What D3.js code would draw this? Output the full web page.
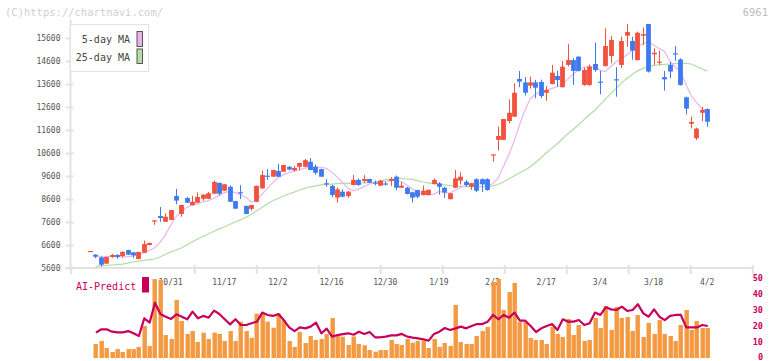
<!DOCTYPE html>
<html>
<head>
<meta charset="utf-8">
<script src="https://cdn.jsdelivr.net/npm/d3@7"></script>
<style>
  body { margin: 0; background: #fff; }
  svg { display: block; }
  text { font-family: "DejaVu Sans Mono", "Liberation Mono", monospace; }
</style>
</head>
<body>
<svg id="chart" width="772" height="361"></svg>
<script>
// trading days (categories)
const dates = [
  "10/9","10/10","10/14","10/15","10/16","10/17","10/20","10/21","10/22","10/23","10/24","10/27","10/28","10/29","10/30","10/31",
  "11/4","11/5","11/6","11/7","11/10","11/11","11/12","11/13","11/14","11/17","11/18","11/19","11/20","11/21","11/25","11/26","11/27","11/28",
  "12/1","12/2","12/3","12/4","12/5","12/8","12/9","12/10","12/11","12/12","12/15","12/16","12/17","12/18","12/19","12/22","12/23","12/24","12/25","12/26","12/29","12/30",
  "1/5","1/6","1/7","1/8","1/9","1/13","1/14","1/15","1/16","1/19","1/20","1/21","1/22","1/23","1/26","1/27","1/28","1/29","1/30",
  "2/2","2/3","2/4","2/5","2/6","2/9","2/10","2/12","2/13","2/16","2/17","2/18","2/19","2/20","2/24","2/25","2/26","2/27",
  "3/2","3/3","3/4","3/5","3/6","3/9","3/10","3/11","3/12","3/13","3/16","3/17","3/18","3/19","3/23","3/24","3/25","3/26","3/27","3/30","3/31",
  "4/1","4/2"
];
const dateLabels = ["10/31","11/17","12/2","12/16","12/30","1/19","2/2","2/17","3/4","3/18","4/2"];
const priceTicks = [5600,6600,7600,8600,9600,10600,11600,12600,13600,14600,15600];
const aiTicks = [0,10,20,30,40,50];

const open = [
  6330,6180,6065,5790,6080,6165,6120,6380,6280,5990,6265,6600,7650,7860,7610,7690,
  8730,7950,8640,8330,8440,8610,8610,8830,9300,8960,9130,8510,8895,8300,8170,8480,9060,9615,
  9570,9820,9790,10000,9850,10000,10000,10220,10000,9900,9285,9170,8660,8920,8730,9210,9430,9380,9470,9315,9180,9275,
  9380,9570,9090,9090,8890,8990,8770,8770,9250,9280,9090,8590,9090,9400,9350,9130,9460,9460,9460,
  10530,11170,11170,11990,12180,13820,13670,13530,13670,13690,13220,13600,13950,13460,14430,14640,14790,13560,
  13560,14470,13705,14380,14820,13805,14430,15700,15470,14640,15700,16210,14890,14565,13900,14430,14935,14670,13020,11870,11240,
  12350,12510
];
const high = [
  6340,6200,6100,6080,6210,6200,6330,6390,6300,6310,6790,6700,7680,8250,7980,8130,
  9035,8350,8700,8730,8890,8800,8910,9400,9310,9250,9190,8520,9200,8310,8340,9180,9830,9900,
  9870,10120,10080,10030,10040,10170,10340,10380,10100,9920,9460,9220,9100,9030,8950,9640,9500,9640,9480,9400,9420,9350,
  9550,9620,9340,9130,8920,9000,9180,9010,9490,9330,9130,8850,9860,9760,9420,9290,9500,9500,9500,
  10540,11740,12080,12930,13630,14165,13900,13920,13780,13790,13510,14430,14180,14600,15340,14720,14800,14310,
  14450,15400,14170,16020,15690,14330,15660,16210,15660,15880,16060,16210,15150,15050,14170,14560,15250,14720,13050,12180,11700,
  12610,12540
];
const low = [
  6330,6030,5660,5780,6040,6000,6060,6170,6040,5980,6260,6580,7480,7610,7600,7680,
  8370,7830,8420,8320,8430,8520,8600,8820,8750,8950,8470,8170,8600,7940,8100,8470,9050,9430,
  9560,9560,9780,9840,9800,9850,9990,9850,9650,9560,9130,8670,8440,8670,8650,9200,9170,9300,9300,9190,9170,9190,
  9170,8990,9080,8800,8450,8630,8760,8760,9240,8790,8650,8590,9080,9230,9130,9000,8900,8900,8960,
  10220,10700,11160,11890,12170,13460,13100,13400,12980,12980,12870,13590,13480,13450,14370,13560,14150,13520,
  13520,14130,13150,14370,14500,13050,14300,15220,14660,14630,15290,14100,14430,14430,13310,13860,14610,13530,12280,11670,11170,
  11990,11740
];
const close = [
  6340,6090,5743,6078,6165,6080,6300,6180,6150,6300,6640,6690,7670,7770,7830,8120,
  8530,8340,8440,8480,8690,8790,8850,9340,8830,9240,8480,8180,8885,7950,8340,9170,9640,9605,
  9860,9570,10080,9880,9950,10170,10290,9860,9740,9570,9275,8770,9020,8700,8920,9430,9210,9470,9310,9305,9400,9265,
  9470,9090,9180,8820,8660,8700,8960,9000,9430,9130,8880,8850,9500,9570,9210,9280,8960,9240,8990,
  10540,11340,12080,12350,13220,13700,13220,13670,13440,13080,13340,14090,13770,14350,14640,14170,14170,14210,
  14350,14210,13695,15250,15510,13795,15470,15860,15050,15830,15770,14140,14960,14575,13800,14140,14925,13560,12530,11950,11660,
  12470,11960
];

const ma5 = [
  null,6110,6110,6100,6100,6090,6080,6090,6120,6180,6260,6360,6480,6700,7030,7450,
  7820,8050,8230,8330,8400,8470,8530,8620,8750,8880,8930,8880,8790,8680,8470,8550,8800,9050,
  9300,9520,9650,9740,9820,9860,9940,9990,10000,9980,9930,9780,9560,9330,9080,8960,9020,9140,9240,9320,9340,9360,
  9400,9420,9350,9210,9050,8880,8820,8790,8800,8920,8900,8850,8980,9090,9200,9280,9300,9280,9200,
  9250,9500,10000,10500,11100,11800,12450,12950,13150,13280,13330,13400,13480,13580,13800,14020,14210,14320,
  14380,14330,14200,14140,14350,14570,14700,14860,15050,15220,15350,15440,15300,15150,15030,14600,14350,14150,13600,13100,12800,
  12520,12470
];
const ma25 = [
  null,5660,5690,5710,5730,5750,5770,5810,5860,5900,5930,5960,5990,6080,6190,6300,
  6380,6470,6600,6730,6860,6970,7080,7190,7300,7380,7490,7600,7690,7800,7930,8080,8230,8380,
  8510,8620,8730,8820,8900,8990,9060,9120,9170,9210,9230,9250,9270,9280,9280,9290,9290,9300,9310,9340,9380,9430,
  9470,9490,9490,9470,9450,9400,9340,9300,9270,9230,9210,9180,9170,9150,9140,9140,9140,9140,9150,
  9170,9230,9340,9470,9600,9730,9860,9990,10190,10380,10600,10800,10990,11210,11430,11620,11820,12040,
  12250,12450,12690,12930,13170,13400,13640,13840,14010,14170,14270,14360,14400,14430,14450,14470,14490,14500,14500,14470,14360,
  14250,14170
];

// AI-Predict panel
const aiBars = [
  null,8.8,10.7,6.3,3.8,5.6,3.8,5.6,5.6,6.9,20.1,7.5,49.5,48.9,14.4,11.9,
  36.4,23.2,15.1,16.9,10,15.9,11.9,15.9,15.1,10.7,16.9,10.7,22.8,16.9,12.6,27.8,27.8,22.8,
  19,27.8,23.8,10.7,6.9,16.3,9.4,13.8,11.3,11.9,15.1,25.1,13.8,13.3,8.2,13.5,8.8,8,5,4,5,5,
  11.3,8.8,8.2,11.9,9.6,10.7,10.7,6.3,11.9,6.9,9.4,7.5,33.3,10,8.8,8.8,13.8,16.9,19.5,
  47.7,49.6,30.1,41.4,47.1,22.6,22.6,12.6,11.3,11.3,8.8,19.5,15.1,13.2,24.5,14.4,20.7,10.7,
  11.3,25.1,18.8,32.6,17.6,32,25.1,25.7,16.9,27,13.2,22,15.1,23.8,15.1,13.8,10.7,20.7,30.1,17.6,23.2,
  18.8,18.8
];
const aiLine = [
  null,15.9,18,18,16.5,16.1,16.1,16.9,15.5,13.8,24.9,22.2,34.7,27.6,25.9,24.5,
  27.4,25.9,24.3,29.1,24.9,26.4,25.3,29.7,27.6,24.3,21.1,24.3,20.7,20.7,21.8,22.8,28.5,27,
  26.4,27.6,23.8,19.2,16.9,19.2,18.6,19.7,22.2,15.5,18.4,13.4,14.4,15,15.5,14.6,16.5,15.1,16.3,13,13,13.4,
  14.2,14.2,15.1,13.4,12.8,12.3,11.7,10.9,15.1,16.5,18.8,17.6,18.6,19.7,18.6,20.1,21.3,21.3,22.8,
  27,24.3,27,25.3,28.5,23.4,23.4,20.1,16.3,18.6,20.1,21.3,17.6,24.3,22.8,22.8,23.8,20.7,
  21.8,28.5,27,31.8,30.5,30.1,32.2,29.5,30.1,33.7,28,25.9,30.5,25.9,23.8,26.4,27,27,19.2,19.2,19.2,
  20.7,20.1
];

const UP = "#f2513e", DOWN = "#3d79ef";
const svg = d3.select("#chart");

const x = d3.scaleLinear().domain([0, dates.length - 1]).range([90.1, 707.2]);
const y = d3.scaleLinear().domain([5600, 15600]).range([268, 38]);
const yAi = d3.scaleLinear().domain([0, 50]).range([358, 278.3]);
const grid = d3.scaleLinear().domain([0, 11]).range([70.3, 752.3]);

// header texts
svg.append("text").attr("x", 5).attr("y", 16).attr("font-size", 10.5)
  .attr("fill", "#cfcfcf").text("(C)https://chartnavi.com/");
svg.append("text").attr("x", 768).attr("y", 16).attr("font-size", 10.5)
  .attr("text-anchor", "end").attr("fill", "#bdbdbd").text("6961");

// y axis
const yAxis = svg.append("g").attr("transform", "translate(70.5,0)")
  .call(d3.axisLeft(y).tickValues(priceTicks).tickFormat(d3.format("d"))
    .tickSize(5).tickSizeOuter(0).tickPadding(5));
yAxis.select(".domain").attr("stroke", "#e2e2e2").attr("stroke-width", 2)
  .attr("d", "M0,20V268");
yAxis.selectAll(".tick line").attr("stroke", "#e2e2e2").attr("stroke-width", 2).attr("x1", 3).attr("x2", -5);
yAxis.selectAll(".tick text").attr("font-size", 8).attr("fill", "#555")
  .style("font-family", "'DejaVu Sans Mono', monospace");

// x axis (grid ticks)
const xAxis = svg.append("g").attr("transform", "translate(0,268)")
  .call(d3.axisBottom(grid).tickValues([0,2,3,4,5,6,7,8,9,10,11]).tickSize(6).tickSizeOuter(0).tickFormat(""));
xAxis.select(".domain").attr("stroke", "#e2e2e2").attr("stroke-width", 2).attr("d", "M65,0H752.3");
xAxis.selectAll(".tick line").attr("stroke", "#e2e2e2").attr("stroke-width", 2).attr("y1", -3);

// moving averages
const lineGen = d3.line().defined(d => d != null).x((d, i) => x(i)).y(d => y(d));
svg.append("path").datum(ma25).attr("d", lineGen).attr("fill", "none")
  .attr("stroke", "#b4dca4").attr("stroke-width", 1.2);
svg.append("path").datum(ma5).attr("d", lineGen).attr("fill", "none")
  .attr("stroke", "#eab4ec").attr("stroke-width", 1.2);

// candles
const candles = svg.append("g").selectAll("g").data(dates).enter().append("g");
candles.append("line")
  .attr("x1", (d, i) => Math.round(x(i)) + 0.5).attr("x2", (d, i) => Math.round(x(i)) + 0.5)
  .attr("y1", (d, i) => y(high[i])).attr("y2", (d, i) => y(low[i]))
  .attr("stroke", (d, i) => close[i] >= open[i] ? UP : DOWN).attr("stroke-width", 1);
candles.append("rect")
  .attr("x", (d, i) => Math.round(x(i)) + 0.5 - 2.4).attr("width", 4.8)
  .attr("y", (d, i) => y(Math.max(open[i], close[i])))
  .attr("height", (d, i) => Math.max(1.2, Math.abs(y(open[i]) - y(close[i]))))
  .attr("fill", (d, i) => close[i] >= open[i] ? UP : DOWN);

// legend
const lg = svg.append("g");
lg.append("rect").attr("x", 70.5).attr("y", 24.5).attr("width", 78).attr("height", 47)
  .attr("fill", "#fff").attr("stroke", "#e2e2e2").attr("stroke-width", 1);
lg.append("text").attr("x", 130).attr("y", 43).attr("text-anchor", "end").attr("font-size", 10)
  .attr("fill", "#444").text("5-day MA");
lg.append("text").attr("x", 130).attr("y", 61).attr("text-anchor", "end").attr("font-size", 10)
  .attr("fill", "#444").text("25-day MA");
lg.append("rect").attr("x", 137).attr("y", 31.5).attr("width", 5.5).attr("height", 15)
  .attr("fill", "#eab4ec").attr("stroke", "#555");
lg.append("rect").attr("x", 137).attr("y", 49).attr("width", 5.5).attr("height", 14.5)
  .attr("fill", "#b4dca4").attr("stroke", "#555");

// date labels
svg.append("g").selectAll("text").data(dateLabels).enter().append("text")
  .attr("x", d => x(dates.indexOf(d))).attr("y", 285)
  .attr("text-anchor", "middle").attr("font-size", 8).attr("fill", "#555").text(d => d);

// AI-Predict legend
svg.append("text").attr("x", 76).attr("y", 290).attr("font-size", 10)
  .attr("fill", "#c8005a").text("AI-Predict");
svg.append("rect").attr("x", 142).attr("y", 277).attr("width", 7).attr("height", 15.5)
  .attr("fill", "#c8005a");

// right axis of AI panel
svg.append("g").selectAll("text").data(aiTicks).enter().append("text")
  .attr("x", 763).attr("y", d => Math.min(yAi(d) + 3, 359.5)).attr("text-anchor", "end")
  .attr("font-size", 8.5).attr("font-weight", "bold").attr("fill", "#c8005a").text(d => d);

// AI bars
svg.append("g").selectAll("rect").data(aiBars.map((v, i) => ({ v, i })).filter(d => d.v != null))
  .enter().append("rect")
  .attr("x", d => Math.round(x(d.i)) - 2 + 0.5).attr("width", 4.4)
  .attr("y", d => yAi(d.v)).attr("height", d => yAi(0) - yAi(d.v))
  .attr("fill", "#f39a42");

// AI line
const aiGen = d3.line().defined(d => d != null).x((d, i) => x(i) + 0.5).y(d => yAi(d));
svg.append("path").datum(aiLine).attr("d", aiGen).attr("fill", "none")
  .attr("stroke", "#c8005a").attr("stroke-width", 2.2).attr("stroke-linejoin", "round");
</script>
</body>
</html>
